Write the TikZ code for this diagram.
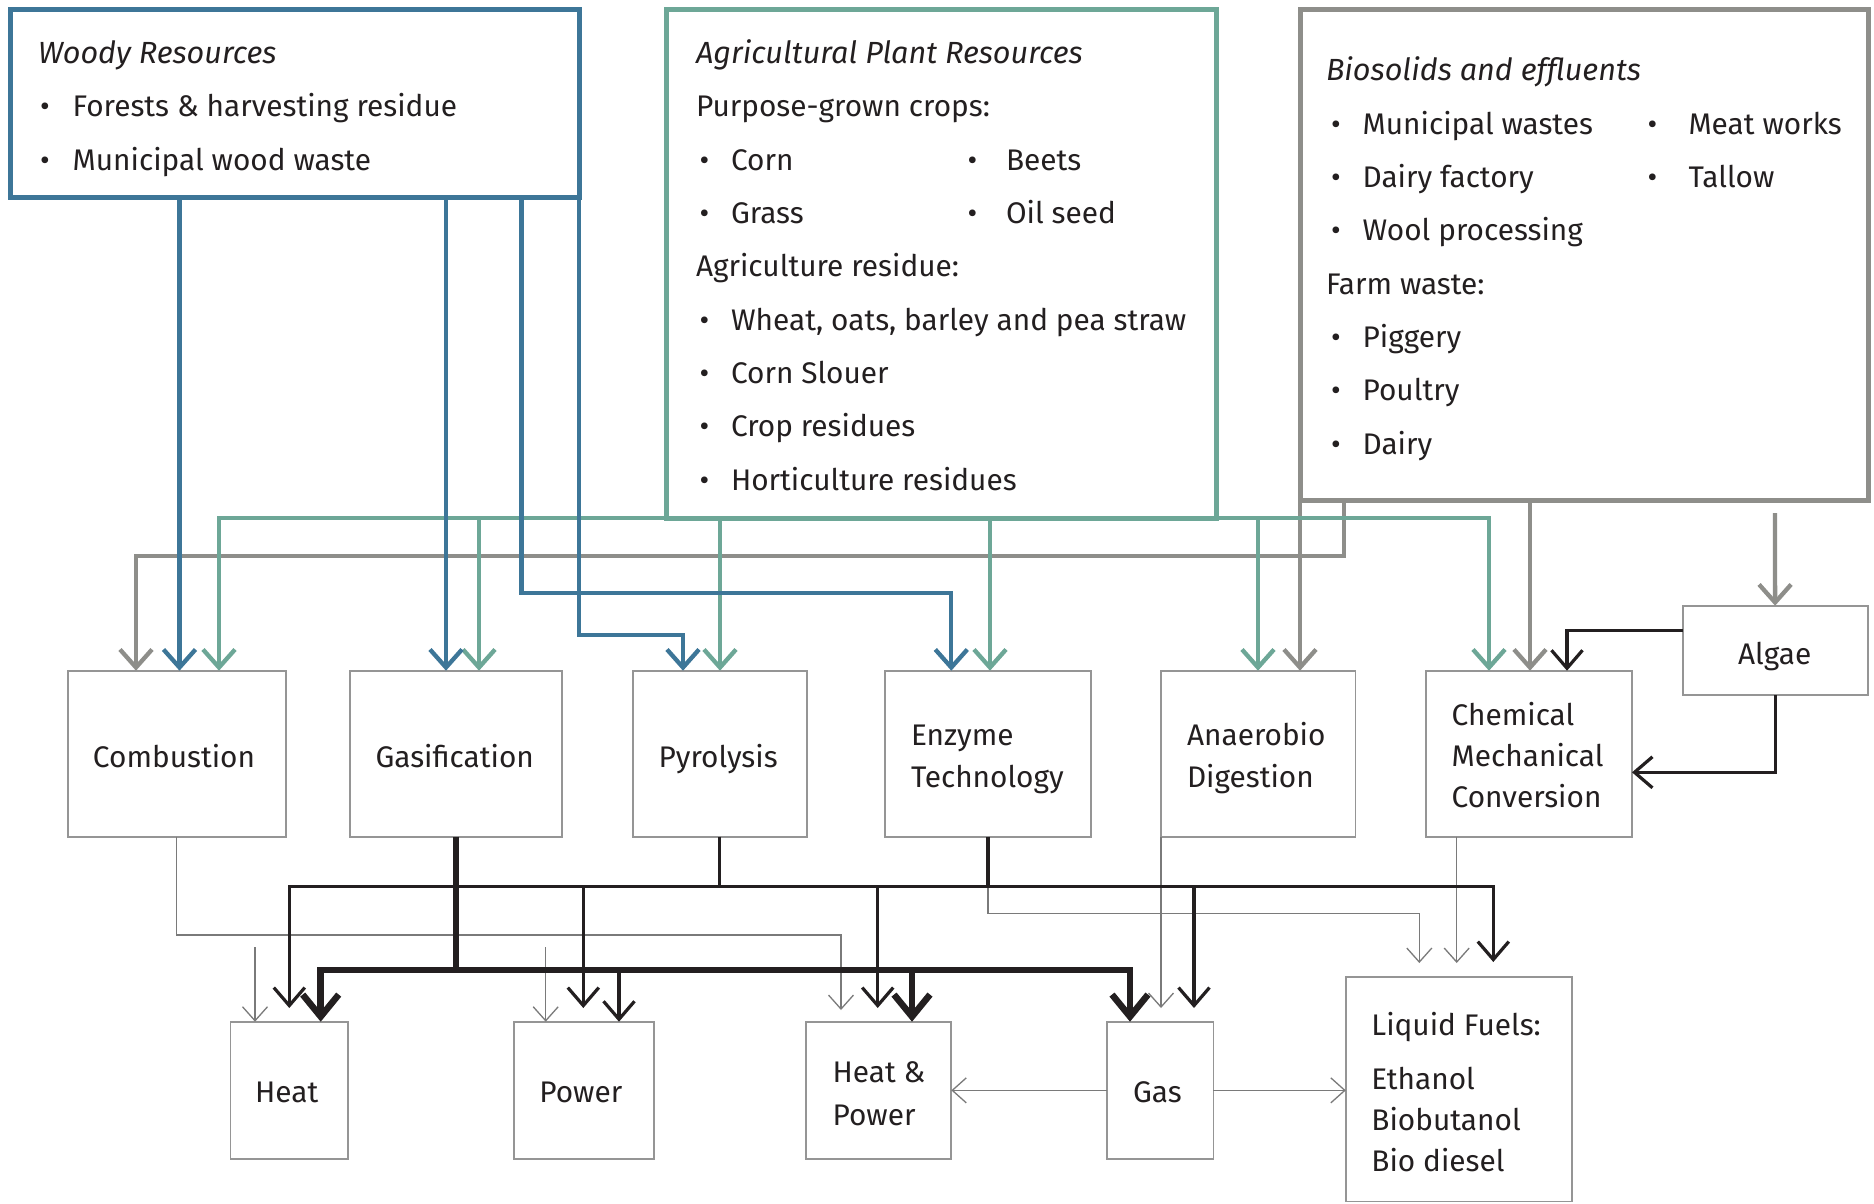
\documentclass[tikz,border=0pt]{standalone}
\usepackage{fontspec}
\setmainfont{Fira Sans}
\usetikzlibrary{arrows.meta}
\definecolor{wblue}{HTML}{3D7698}
\definecolor{ateal}{HTML}{6DA797}
\definecolor{bgray}{HTML}{8E8E8A}
\definecolor{ink}{HTML}{231F20}
\definecolor{thinc}{HTML}{7A7A7A}
\definecolor{pbox}{HTML}{959595}
\tikzset{
 ctip/.tip={Straight Barb[length=18pt,width=32pt]},
 mtip/.tip={Straight Barb[length=18pt,width=31pt]},
 ttip/.tip={Straight Barb[length=22pt,width=36pt]},
 stip/.tip={Straight Barb[length=14pt,width=25pt]},
}
\begin{document}
\begin{tikzpicture}[x=1pt,y=-1pt,
  every node/.style={inner sep=0pt, outer sep=0pt, text=ink, font=\fontsize{29.8}{36}\selectfont},
  resbox/.style={draw, line width=5pt, rectangle},
  procbox/.style={draw=pbox, line width=1.8pt, rectangle},
  lbl/.style={anchor=base west},
  clbl/.style={anchor=base},
  ttl/.style={anchor=base west, font=\fontsize{30.6}{36}\selectfont\itshape},
  blueline/.style={draw=wblue, line width=4.3pt, -{ctip}},
  tealline/.style={draw=ateal, line width=4.3pt, -{ctip}},
  grayline/.style={draw=bgray, line width=4.3pt, -{ctip}},
  medplain/.style={draw=ink, line width=3.2pt},
  medline/.style={medplain, -{mtip}},
  thickplain/.style={draw=ink, line width=6.5pt},
  thickline/.style={thickplain, -{ttip}},
  thinline/.style={draw=thinc, line width=1.3pt, -{stip}},
]
\useasboundingbox (0,0) rectangle (1874,1203);
\fill[white] (0,0) rectangle (1874,1203);

% resource boxes
\node[resbox, draw=wblue, minimum width=569pt, minimum height=188pt] (woody) at (294.5,103) {};
\node[resbox, draw=ateal, minimum width=549.3pt, minimum height=509pt] (agri) at (941.35,263.5) {};
\node[resbox, draw=bgray, minimum width=568pt, minimum height=491pt] (bio) at (1584,254.5) {};

% woody text
\node[ttl] (w0) at (38,63.5) {Woody Resources};
\node[lbl] (w1b) at (40,116.8) {\textbullet};
\node[lbl] (w1) at (72.7,116.8) {Forests \& harvesting residue};
\node[lbl] (w2b) at (40,170.1) {\textbullet};
\node[lbl] (w2) at (72.7,170.1) {Municipal wood waste};

% agri text
\node[ttl] (a0) at (696,63.5) {Agricultural Plant Resources};
\node[lbl] (a1) at (696,116.8) {Purpose-grown crops:};
\node[lbl] (a2b) at (699.5,170.1) {\textbullet};
\node[lbl] (a2) at (731,170.1) {Corn};
\node[lbl] (a3b) at (967.6,170.1) {\textbullet};
\node[lbl] (a3) at (1006,170.1) {Beets};
\node[lbl] (a4b) at (699.5,223.4) {\textbullet};
\node[lbl] (a4) at (731,223.4) {Grass};
\node[lbl] (a5b) at (967.6,223.4) {\textbullet};
\node[lbl] (a5) at (1006,223.4) {Oil seed};
\node[lbl] (a6) at (696,276.7) {Agriculture residue:};
\node[lbl] (a7b) at (699.5,330) {\textbullet};
\node[lbl] (a7) at (731,330) {Wheat, oats, barley and pea straw};
\node[lbl] (a8b) at (699.5,383.3) {\textbullet};
\node[lbl] (a8) at (731,383.3) {Corn Slouer};
\node[lbl] (a9b) at (699.5,436.6) {\textbullet};
\node[lbl] (a9) at (731,436.6) {Crop residues};
\node[lbl] (a10b) at (699.5,490) {\textbullet};
\node[lbl] (a10) at (731,490) {Horticulture residues};

% bio text
\node[ttl] (b0) at (1326,80.7) {Biosolids and effluents};
\node[lbl] (b1b) at (1331,134.1) {\textbullet};
\node[lbl] (b1) at (1362.6,134.1) {Municipal wastes};
\node[lbl] (b2b) at (1647.5,134.1) {\textbullet};
\node[lbl] (b2) at (1688.5,134.1) {Meat works};
\node[lbl] (b3b) at (1331,187.4) {\textbullet};
\node[lbl] (b3) at (1362.6,187.4) {Dairy factory};
\node[lbl] (b4b) at (1647.5,187.4) {\textbullet};
\node[lbl] (b4) at (1688.5,187.4) {Tallow};
\node[lbl] (b5b) at (1331,240.4) {\textbullet};
\node[lbl] (b5) at (1362.6,240.4) {Wool processing};
\node[lbl] (b6) at (1326,294.1) {Farm waste:};
\node[lbl] (b7b) at (1331,347.4) {\textbullet};
\node[lbl] (b7) at (1362.6,347.4) {Piggery};
\node[lbl] (b8b) at (1331,400.4) {\textbullet};
\node[lbl] (b8) at (1362.6,400.4) {Poultry};
\node[lbl] (b9b) at (1331,454.1) {\textbullet};
\node[lbl] (b9) at (1362.6,454.1) {Dairy};

% process boxes
\node[procbox, minimum width=217.8pt, minimum height=166pt] (comb) at (176.8,753.7) {};
\node[clbl] (comb1) at (174,767) {Combustion};
\node[procbox, minimum width=211.6pt, minimum height=166pt] (gasif) at (455.8,753.7) {};
\node[clbl] (gasif1) at (454.7,767) {Gasification};
\node[procbox, minimum width=174.1pt, minimum height=166pt] (pyro) at (719.65,753.7) {};
\node[clbl] (pyro1) at (718.2,767) {Pyrolysis};
\node[procbox, minimum width=206.2pt, minimum height=166pt] (enz) at (987.9,753.7) {};
\node[lbl] (enz1) at (911,745) {Enzyme};
\node[lbl] (enz2) at (911,787) {Technology};
\node[procbox, minimum width=194.5pt, minimum height=166pt] (anae) at (1258.25,753.7) {};
\node[lbl] (anae1) at (1187,745) {Anaerobio};
\node[lbl] (anae2) at (1187,787) {Digestion};
\node[procbox, minimum width=206pt, minimum height=166pt] (chem) at (1529,753.7) {};
\node[lbl] (chem1) at (1451.7,725) {Chemical};
\node[lbl] (chem2) at (1451.7,766) {Mechanical};
\node[lbl] (chem3) at (1451.7,807) {Conversion};
\node[procbox, minimum width=185pt, minimum height=89.3pt] (algae) at (1775.1,650.35) {};
\node[clbl] (algae1) at (1774.6,664.2) {Algae};

% output boxes
\node[procbox, minimum width=117.8pt, minimum height=137.3pt] (heat) at (289.3,1090.35) {};
\node[clbl] (heat1) at (286.8,1102.7) {Heat};
\node[procbox, minimum width=140.2pt, minimum height=137.3pt] (power) at (583.9,1090.35) {};
\node[clbl] (power1) at (580.8,1102.7) {Power};
\node[procbox, minimum width=145.5pt, minimum height=137.3pt] (hp) at (878.55,1090.35) {};
\node[lbl] (hp1) at (832.6,1082.9) {Heat \&};
\node[lbl] (hp2) at (832.6,1125.3) {Power};
\node[procbox, minimum width=106.4pt, minimum height=137.3pt] (gas) at (1160.2,1090.35) {};
\node[clbl] (gas1) at (1157.4,1102.7) {Gas};
\node[procbox, minimum width=226.2pt, minimum height=224.2pt] (lf) at (1458.9,1089.4) {};
\node[lbl] (lf1) at (1371.4,1035.4) {Liquid Fuels:};
\node[lbl] (lf2) at (1371.4,1089.1) {Ethanol};
\node[lbl] (lf3) at (1371.4,1130.4) {Biobutanol};
\node[lbl] (lf4) at (1371.4,1171.4) {Bio diesel};

% ---- resource connectors
\coordinate (algin) at (1775,513);
\draw[grayline] (1344,0 |- bio.south) |- (136,556) -- (136,0 |- comb.north);
\draw[grayline] (bio.south west) -- (bio.south west |- anae.north);
\draw[grayline] (1530,0 |- bio.south) -- (1530,0 |- chem.north);
\draw[grayline] (algin) -- (algae.north);

\draw[tealline] (agri.south west) -| (219,0 |- comb.north);
\draw[tealline] (479,0 |- agri.south) -- (479,0 |- gasif.north);
\draw[tealline] (720,0 |- agri.south) -- (720,0 |- pyro.north);
\draw[tealline] (990,0 |- agri.south) -- (990,0 |- enz.north);
\draw[tealline] (agri.south east) -| (1489,0 |- chem.north);
\draw[tealline] (1258,0 |- agri.south) -- (1258,0 |- anae.north);

\draw[blueline] (179.5,0 |- woody.south) -- (179.5,0 |- comb.north);
\draw[blueline] (446,0 |- woody.south) -- (446,0 |- gasif.north);
\draw[blueline] (521.4,0 |- woody.south) |- (951.3,593.3) -- (951.3,0 |- enz.north);
\draw[blueline] (woody.south east) |- (683,635) -- (683,0 |- pyro.north);

\draw[medline] ([yshift=19.6pt]algae.west) -| (1567,0 |- chem.north);
\draw[medline] (algae.south) |- ([yshift=-18.6pt]chem.east);

% ---- output connectors
\coordinate (mbus) at (0,886.7);
\coordinate (tbus) at (0,970);
\coordinate (cbus) at (0,935);
\coordinate (ebus) at (0,913.3);
\coordinate (heatfree) at (255,947);
\coordinate (powfree) at (545.7,947);
\coordinate (hpA) at (841,1010);
\coordinate (heatB) at (289.3,1008);
\coordinate (powB) at (583.3,1008);
\coordinate (hpB) at (877.7,1008);
\coordinate (gasB) at (1161,1008);
\coordinate (gasC) at (1194,1008);
\coordinate (lfA) at (1419.3,963);
\coordinate (lfB) at (1456.7,963);
\coordinate (lfC) at (1493.3,962);

\draw[thinline] (comb.south) |- (hpA |- cbus) -- (hpA);
\draw[thinline] (enz.south) |- (lfA |- ebus) -- (lfA);
\draw[thinline] (anae.south west) -- (gasB);
\draw[thinline] (lfB |- chem.south) -- (lfB);
\draw[thinline] (heatfree) -- (heatfree |- heat.north);
\draw[thinline] (powfree) -- (powfree |- power.north);
\draw[thinline] (gas.west) -- (hp.east);
\draw[thinline] (gas.east) -- (lf.west |- gas.east);

\draw[medplain] (pyro.south) -- (pyro.south |- mbus);
\draw[medplain] (enz.south) -- (enz.south |- mbus);
\draw[medplain, {mtip}-{mtip}] (heatB) |- (lfC |- mbus) -- (lfC);
\draw[medline] (powB |- mbus) -- (powB);
\draw[medline] (hpB |- mbus) -- (hpB);
\draw[medline] (gasC |- mbus) -- (gasC);
\draw[medline] (619,0 |- tbus) -- (619,0 |- power.north);

\draw[thickplain] (gasif.south) -- (gasif.south |- tbus);
\draw[thickplain, {ttip}-{ttip}] (320.7,0 |- heat.north) |- (1130,0 |- tbus) -- (1130,0 |- gas.north);
\draw[thickline] (912,0 |- tbus) -- (912,0 |- hp.north);
\end{tikzpicture}
\end{document}
